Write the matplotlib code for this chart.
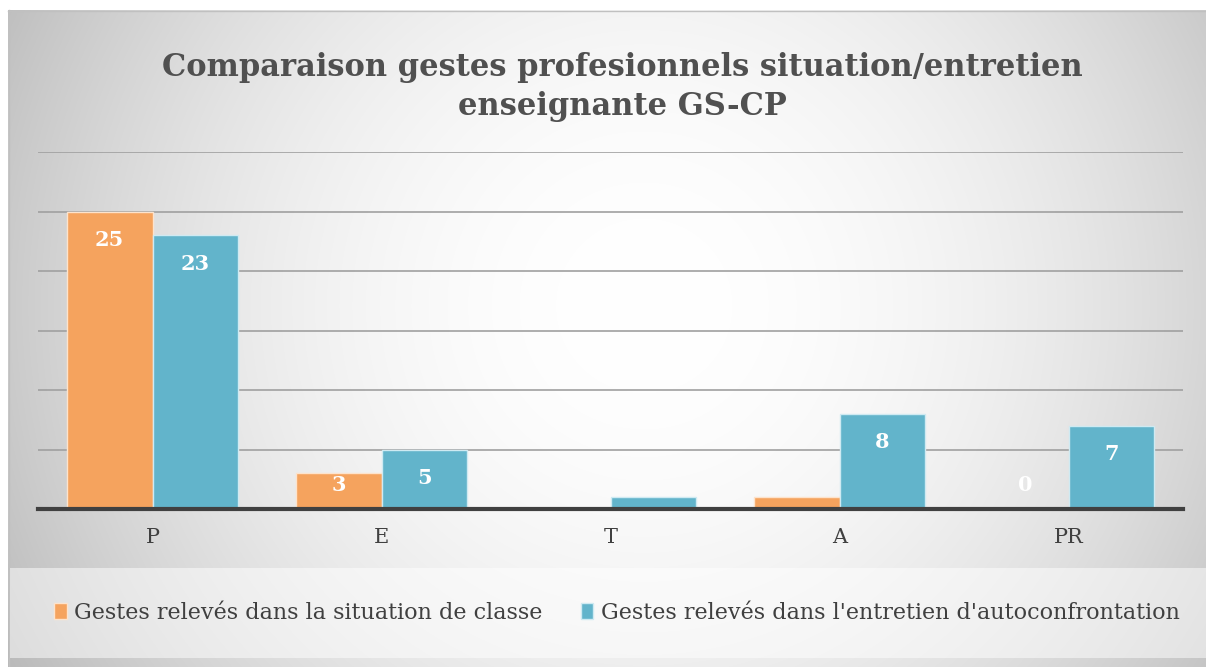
import numpy as np
import matplotlib
matplotlib.use("Agg")
import matplotlib.pyplot as plt
from matplotlib.patches import Rectangle

# data
categories = ["P", "E", "T", "A", "PR"]
situation = [25, 3, 0, 1, 0]
entretien = [23, 5, 1, 8, 7]
# Excel only shows some labels
show_situation = [True, True, False, False, True]
show_entretien = [True, True, False, True, True]
series_names = ["Gestes relevés dans la situation de classe",
                "Gestes relevés dans l'entretien d'autoconfrontation"]
title = "Comparaison gestes profesionnels situation/entretien\nenseignante GS-CP"

orange = "#F5A35E"
blue = "#62B4CB"

W, H = 1206, 667
fig = plt.figure(figsize=(W / 100, H / 100), dpi=100)
fig.patch.set_facecolor("white")

# radial gradient background for the chart box
bg = fig.add_axes([0, 0, 1, 1], zorder=0)
bg.set_xlim(0, W)
bg.set_ylim(H, 0)
bg.axis("off")
yy, xx = np.mgrid[0:H, 0:W]
r = np.sqrt(((xx - 640) / 800.0) ** 2 + ((yy - 300) / 800.0) ** 2)
shade = 1 - 0.32 * np.clip(r, 0, 1.2) ** 2.0
img = np.dstack([shade, shade, shade])
bg.imshow(img, extent=(8, 1206, 667, 10), aspect="auto", interpolation="bilinear", zorder=0)
bg.plot([8, 1206], [10.5, 10.5], color="#c0c0c0", lw=1, zorder=1)
bg.plot([8.5, 8.5], [10, 667], color="#c0c0c0", lw=1, zorder=1)
# lighter legend band
bg.add_patch(Rectangle((10, 568), 1196, 90, facecolor="white", alpha=0.5, edgecolor="none", zorder=1))

bg.text(622, 87, title, ha="center", va="center", fontsize=22, fontweight="bold",
        family="DejaVu Serif", color="#505050", linespacing=1.3, zorder=3)

ax = fig.add_axes([38 / W, 158 / H, (1183 - 38) / W, (509 - 152) / H], zorder=2)
ax.patch.set_alpha(0)
x = np.arange(len(categories))
bw = 0.375
b1 = ax.bar(x - bw / 2, situation, bw, color=orange, edgecolor="#fde3cc", lw=1, label=series_names[0], zorder=3)
b2 = ax.bar(x + bw / 2, entretien, bw, color=blue, edgecolor="#cfeaf2", lw=1, label=series_names[1], zorder=3)

ax.set_xlim(-0.5, len(categories) - 0.5)
ax.set_ylim(0, 30)
ax.set_yticks(np.arange(0, 31, 5))
ax.yaxis.grid(True, color="#a0a0a0", lw=1.2, zorder=1)
ax.tick_params(axis="y", left=False, labelleft=False)
ax.tick_params(axis="x", length=0, pad=14, labelsize=15, labelcolor="#404040")
ax.set_xticks(x)
ax.set_xticklabels(categories, family="DejaVu Serif")
for s in ["top", "right", "left"]:
    ax.spines[s].set_visible(False)
ax.spines["bottom"].set_color("#404040")
ax.spines["bottom"].set_linewidth(3)
ax.spines["bottom"].set_zorder(4)

def label_bars(bars, vals, shows):
    for b, v, s in zip(bars, vals, shows):
        if not s:
            continue
        ytop = max(v, 4.45)
        ax.annotate(str(v), (b.get_x() + b.get_width() / 2, ytop), xytext=(0, -20.5),
                    textcoords="offset points", ha="center", va="center", color="white",
                    fontsize=15, fontweight="bold", family="DejaVu Serif", zorder=5)

label_bars(b1, situation, show_situation)
label_bars(b2, entretien, show_entretien)

leg = fig.legend(loc="center", bbox_to_anchor=(0.5 + 14 / W, (667 - 613) / H), ncol=2, frameon=False,
                 prop={"family": "DejaVu Serif", "size": 16},
                 handlelength=0.55, handleheight=0.7, handletextpad=0.35,
                 columnspacing=1.7, labelcolor="#404040")

fig.savefig("out.png", dpi=100)
